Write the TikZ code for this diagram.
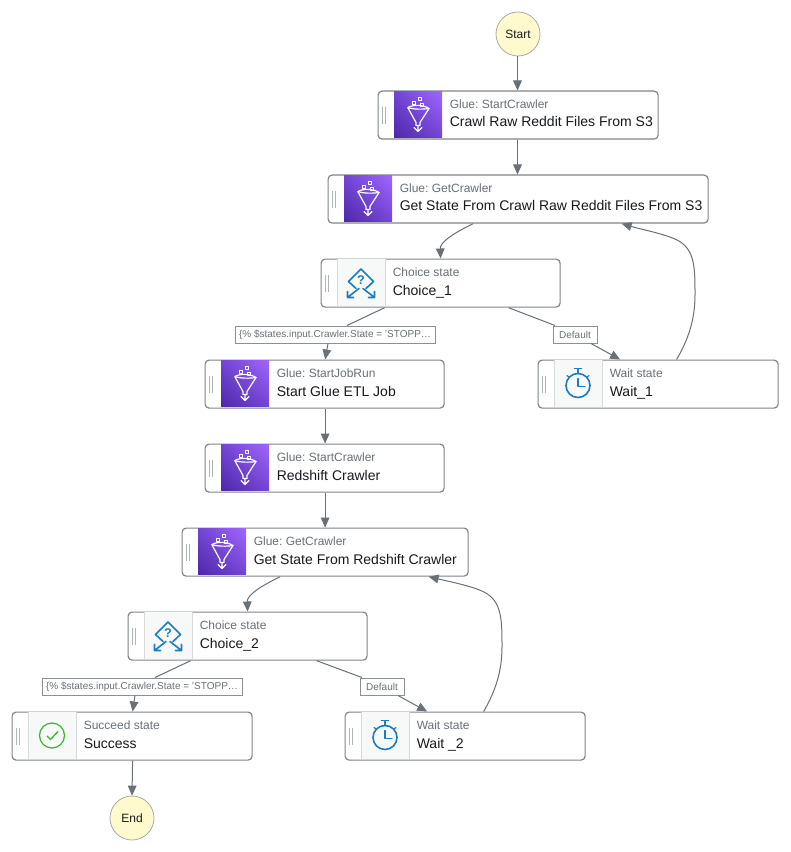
\documentclass[tikz,border=0pt]{standalone}
\usepackage{fontspec}
\setmainfont{Liberation Sans}
\usetikzlibrary{arrows.meta,calc,shadings}
\definecolor{edgecol}{HTML}{687078}
\definecolor{boxcol}{HTML}{879196}
\definecolor{subcol}{HTML}{687078}
\definecolor{titlecol}{HTML}{16191F}
\definecolor{iconbg}{HTML}{F7F8F8}
\definecolor{iconline}{HTML}{D5DBDB}
\definecolor{handlecol}{HTML}{AAB7B8}
\definecolor{bluei}{HTML}{1A7DBE}
\definecolor{greeni}{HTML}{3BB52E}
\definecolor{purpleD}{HTML}{4D27A8}
\definecolor{purpleM}{HTML}{7345D4}
\definecolor{purpleL}{HTML}{A166FF}
\definecolor{termfill}{HTML}{FFFACD}
\definecolor{termline}{HTML}{AAAAAA}
\tikzset{
 x=0.75pt,y=-0.75pt,
 statebox/.style={draw=edgecol!85,line width=0.9pt,rounded corners=3pt,fill=white,minimum height=36pt,anchor=north west,inner sep=0pt},
 subtext/.style={font=\fontsize{9}{11}\selectfont,text=subcol,anchor=base west,inner sep=0pt},
 titletext/.style={font=\fontsize{10.5}{13}\selectfont,text=titlecol,anchor=base west,inner sep=0pt},
 edgelabel/.style={draw=boxcol,line width=0.75pt,fill=white,font=\fontsize{7.5}{9}\selectfont,text=subcol,inner sep=0pt,minimum height=12.75pt},
 terminal/.style={circle,draw=termline,line width=0.6pt,fill=termfill,minimum size=33pt,inner sep=0pt,font=\fontsize{9}{11}\selectfont,text=titlecol},
 conn/.style={draw=edgecol,line width=0.75pt,-{Triangle[length=7.5pt,width=6.5pt]}},
 connplain/.style={draw=edgecol,line width=0.75pt},
 handlebar/.style={draw=handlecol,line width=0.75pt},
 iconwhite/.style={draw=white,line width=0.9pt,line join=round,line cap=round},
 iconblue/.style={draw=bluei,line width=1.2pt,line cap=round,line join=round},
}
% icons are centred on (0,0)
\newcommand{\glueicon}{%
 \shade[lower left=purpleD,upper right=purpleL,upper left=purpleM,lower right=purpleM] (-24,-23.4) rectangle (24,23.4);
 \draw[iconwhite] (-10,-7) .. controls (-5,-10) and (5,-10) .. (11,-6);
 \draw[iconwhite] (-10,-7) .. controls (-5,-5) and (5,-5) .. (11,-6);
 \draw[iconwhite] (-10,-6.5) -- (-2,8) -- (-2,11) -- (2,11) -- (2,8) -- (11,-6);
 \draw[iconwhite,line width=0.7pt] (-5.5,-13) rectangle (-2.5,-10);
 \draw[iconwhite,line width=0.7pt] (0,-17) rectangle (3,-14);
 \draw[iconwhite,line width=0.7pt] (2.5,-11.5) rectangle (5.5,-8.5);
 \draw[iconwhite] (0,11) -- (0,17) (-4,13) -- (0,17) -- (4,13);
}
\newcommand{\plainbg}{\fill[iconbg] (-24,-23.4) rectangle (24,23.4);
 \draw[iconline,line width=0.6pt] (-24,-23.4) -- (-24,23.4) (24,-23.4) -- (24,23.4);}
\newcommand{\choiceicon}{\plainbg
 \draw[iconblue] (0,-13.5) -- (12.5,-1) -- (5,6) (0,-13.5) -- (-12.5,-1) -- (-5,6);
 \draw[iconblue] (-2,6) -- (-13.5,15) (-13.5,9) -- (-13.5,15) -- (-7.5,15);
 \draw[iconblue] (2,6) -- (13.5,15) (13.5,9) -- (13.5,15) -- (7.5,15);
 \node[inner sep=0pt,text=bluei,font=\bfseries\fontsize{9.5}{9.5}\selectfont] at (0,-2) {?};
}
\newcommand{\waiticon}{\plainbg
 \draw[iconblue] (0,2) circle (12);
 \draw[iconblue] (0,-10) -- (0,-14) (-3.5,-15) -- (3.5,-15);
 \draw[iconblue,line width=0.9pt] (-11,-8) -- (-8.5,-6) (11,-8) -- (8.5,-6);
 \draw[iconblue,line width=0.9pt] (0,-5) -- (0,3) -- (7,3);
}
\newcommand{\succeedicon}{\plainbg
 \draw[draw=greeni,line width=0.9pt] (0,0) circle (12.5);
 \draw[draw=greeni,line width=1pt,line cap=round,line join=round] (-5,0.5) -- (-1.5,4) -- (6,-4);
}
% #1 name, #2 left, #3 top, #4 width, #5 icon macro, #6 subtitle, #7 title
\newcommand{\stepstate}[7]{%
 \node[statebox,minimum width=#4*0.75pt] (#1) at (#2-0.5,#3-0.5) {};
 \begin{scope}[shift={(#2+40,#3+23.5)}]#5\end{scope}
 \draw[handlebar] (#2+4,#3+16) -- (#2+4,#3+33) (#2+7,#3+16) -- (#2+7,#3+33);
 \node[subtext] (#1-sub) at (#2+71.5,#3+17.5) {#6};
 \node[titletext] (#1-title) at (#2+71.5,#3+36) {#7};
}
\frenchspacing
\begin{document}
\begin{tikzpicture}
\useasboundingbox (0,0) rectangle (790,852);
\fill[white] (0,0) rectangle (790,852);
\node[terminal] (start) at (518,34) {Start};
\node[terminal] (end) at (132,818) {End};
\stepstate{crawl}{378}{91}{280}{\glueicon}{Glue: StartCrawler}{Crawl Raw Reddit Files From S3}
\stepstate{getraw}{328}{175}{380}{\glueicon}{Glue: GetCrawler}{Get State From Crawl Raw Reddit Files From S3}
\stepstate{choicea}{321}{259}{239}{\choiceicon}{Choice state}{Choice\_1}
\stepstate{etl}{205}{360}{239}{\glueicon}{Glue: StartJobRun}{Start Glue ETL Job}
\stepstate{waita}{538}{360}{240}{\waiticon}{Wait state}{Wait\_1}
\stepstate{redshift}{205}{444}{239}{\glueicon}{Glue: StartCrawler}{Redshift Crawler}
\stepstate{getred}{182}{528}{286}{\glueicon}{Glue: GetCrawler}{Get State From Redshift Crawler}
\stepstate{choiceb}{128}{612}{239}{\choiceicon}{Choice state}{Choice\_2}
\stepstate{success}{12}{712}{240}{\succeedicon}{Succeed state}{Success}
\stepstate{waitb}{345}{712}{240}{\waiticon}{Wait state}{Wait \_2}
\node[edgelabel,minimum width=150pt] (laba) at (335,334.5) {\{\% \$states.input.Crawler.State = 'STOPP…};
\node[edgelabel,minimum width=33pt] (labb) at (575,334.5) {Default};
\node[edgelabel,minimum width=150pt] (labc) at (142,686.5) {\{\% \$states.input.Crawler.State = 'STOPP…};
\node[edgelabel,minimum width=33pt] (labd) at (382,686.5) {Default};
% connectors
\draw[conn] ([shift={(-0.5,0)}]start.south) -- ([shift={(-0.5,0)}]start |- crawl.north);
\draw[conn] ([shift={(-0.5,0)}]start |- crawl.south) -- ([shift={(-0.5,0)}]start |- getraw.north);
\draw[conn] ([shift={(-45,0)}]start |- getraw.south) .. controls (450,235) and (440,243) .. (choicea.north);
\draw[connplain] ([shift={(-56,0)}]choicea.south) -- ([shift={(12,0)}]laba.north);
\draw[conn] ([shift={(-7,0)}]laba.south) -- ([shift={(0.5,0)}]etl.north);
\draw[connplain] ([shift={(68,0)}]choicea.south) -- ([shift={(-20,0)}]labb.north);
\draw[conn] ([shift={(16,0)}]labb.south) -- ([shift={(-38,0)}]waita.north);
\draw[conn] ([shift={(18.5,0)}]waita.north) .. controls (688,340) and (695,320) .. (695,295) .. controls (695,268) and (695,249) .. (677,240) .. controls (665,234) and (640,229) .. ([shift={(103.5,0)}]getraw.south);
\draw[conn] ([shift={(0.5,0)}]etl.south) -- ([shift={(0.5,0)}]redshift.north);
\draw[conn] ([shift={(0.5,0)}]redshift.south) -- (getred.north);
\draw[conn] ([shift={(-45,0)}]getred.south) .. controls (257,588) and (247,596) .. (choiceb.north);
\draw[connplain] ([shift={(-57,0)}]choiceb.south) -- ([shift={(13,0)}]labc.north);
\draw[conn] ([shift={(-7,0)}]labc.south) -- ([shift={(0.5,0)}]success.north);
\draw[connplain] ([shift={(69,0)}]choiceb.south) -- ([shift={(-20,0)}]labd.north);
\draw[conn] ([shift={(16,0)}]labd.south) -- ([shift={(-38,0)}]waitb.north);
\draw[conn] ([shift={(18.5,0)}]waitb.north) .. controls (495,692) and (502,672) .. (502,647) .. controls (502,620) and (502,601) .. (484,592) .. controls (472,586) and (447,581) .. ([shift={(103.5,0)}]getred.south);
\draw[conn] ([shift={(0.5,0)}]success.south) -- ([shift={(0,0)}]end.north);
\end{tikzpicture}
\end{document}
